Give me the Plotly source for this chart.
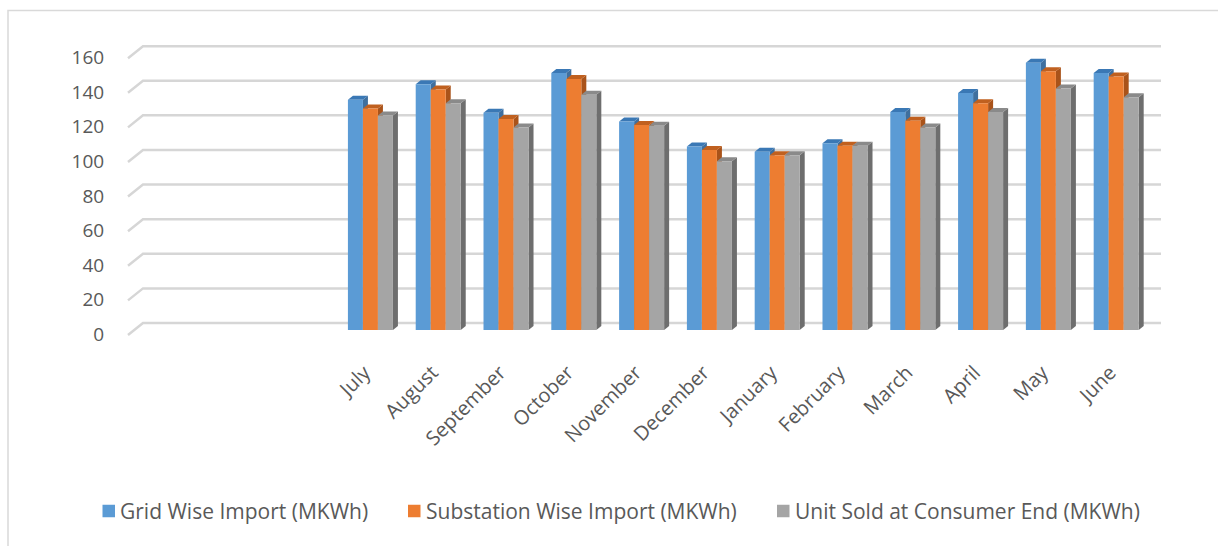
import plotly.graph_objects as go

# ---- data -------------------------------------------------------------
months = ["July", "August", "September", "October", "November", "December",
          "January", "February", "March", "April", "May", "June"]
grid_import = [133, 142, 125.5, 148.5, 120.5, 106, 103, 108, 126, 137, 154.5, 148.5]
substation_import = [128, 139, 122, 145, 118.5, 104, 101, 106.5, 121, 131, 149.5, 146.5]
unit_sold = [124, 131, 117, 136, 118, 97.5, 101, 106.5, 117, 126, 139.5, 134.5]

series_names = ["Grid Wise Import (MKWh)", "Substation Wise Import (MKWh)",
                "Unit Sold at Consumer End (MKWh)"]
y_ticks = [0, 20, 40, 60, 80, 100, 120, 140, 160]

# ---- styling ----------------------------------------------------------
face_colors = ["#5B9BD5", "#ED7D31", "#A5A5A5"]
top_colors = ["#3A78B5", "#C0601F", "#8A8A8A"]
side_colors = ["#3F6F9E", "#A9531A", "#6E6E6E"]
text_color = "#595959"
grid_color = "#D6D6D6"
font_family = "Open Sans"

W, H = 1218, 546
margin_l, margin_r, margin_t, margin_b = 125, 53, 40, 206
plot_w = W - margin_l - margin_r
plot_h = H - margin_t - margin_b

x_range = [-3.62, 11.72]
y_range = [-5.78, 167.6]
px_x = plot_w / (x_range[1] - x_range[0])   # pixels per category unit
px_y = plot_h / (y_range[1] - y_range[0])   # pixels per value unit

bargap = 0.336
group_w = 1 - bargap
bar_w = group_w / 3

# 3-D depth of each bar (pixels -> data units)
depth_dx = 5 / px_x
depth_dy = 4 / px_y

# wall perspective for the gridlines
back_dy = 7 / px_y      # back wall sits above the bar baseline
front_dy = -5 / px_y    # front edge sits below the bar baseline
wall_x0 = x_range[0] + 3 / px_x
wall_x1 = x_range[0] + 18 / px_x
wall_x2 = x_range[0] + 1036 / px_x


def paper_x(px):
    return (px - margin_l) / plot_w


def paper_y(py):
    return (H - margin_b - py) / plot_h


fig = go.Figure()

series = [grid_import, substation_import, unit_sold]
for name, vals, col in zip(series_names, series, face_colors):
    fig.add_trace(go.Bar(
        x=months, y=vals, name=name, showlegend=False,
        marker=dict(color=col, line=dict(width=0)),
    ))

shapes = []
annotations = []

# back-wall gridlines with the slanted floor edge at the left
for v in y_ticks:
    shapes.append(dict(
        type="path", xref="x", yref="y", layer="below",
        path=(f"M {wall_x0},{v + front_dy} L {wall_x1},{v + back_dy} "
              f"L {wall_x2},{v + back_dy}"),
        line=dict(color=grid_color, width=2.5),
    ))

# top caps and right-hand side faces giving each bar its depth
for i, vals in enumerate(series):
    for k, v in enumerate(vals):
        x0 = k - group_w / 2 + i * bar_w
        x1 = x0 + bar_w
        shapes.append(dict(
            type="path", xref="x", yref="y", layer="below",
            path=(f"M {x1},0 L {x1},{v} L {x1 + depth_dx},{v + depth_dy} "
                  f"L {x1 + depth_dx},{depth_dy} Z"),
            fillcolor=side_colors[i], line=dict(width=0),
        ))
        shapes.append(dict(
            type="path", xref="x", yref="y", layer="below",
            path=(f"M {x0},{v} L {x1},{v} L {x1 + depth_dx},{v + depth_dy} "
                  f"L {x0 + depth_dx},{v + depth_dy} Z"),
            fillcolor=top_colors[i], line=dict(width=0),
        ))

# legend row: colour key squares with their labels
legend_y = 511
legend_key_x = [102.5, 408, 777]
key_size = 12.5
for name, col, kx in zip(series_names, face_colors, legend_key_x):
    shapes.append(dict(
        type="rect", xref="paper", yref="paper",
        x0=paper_x(kx), x1=paper_x(kx + key_size),
        y0=paper_y(legend_y + key_size / 2), y1=paper_y(legend_y - key_size / 2),
        fillcolor=col, line=dict(width=0),
    ))
    annotations.append(dict(
        xref="paper", yref="paper", x=paper_x(kx + key_size + 3), y=paper_y(legend_y),
        xanchor="left", yanchor="middle", showarrow=False, text=name,
        font=dict(size=21, color=text_color, family=font_family),
    ))

# chart frame
shapes.append(dict(
    type="rect", xref="paper", yref="paper", layer="below",
    x0=paper_x(8), x1=paper_x(W + 10), y0=paper_y(H + 10), y1=paper_y(10.5),
    line=dict(color="#D9D9D9", width=1.5), fillcolor="rgba(0,0,0,0)",
))

fig.update_layout(
    width=W, height=H,
    margin=dict(l=margin_l, r=margin_r, t=margin_t, b=margin_b),
    paper_bgcolor="white", plot_bgcolor="white",
    barmode="group", bargap=bargap, bargroupgap=0,
    font=dict(family=font_family, color=text_color),
    shapes=shapes, annotations=annotations,
    showlegend=False,
    xaxis=dict(
        range=x_range, showgrid=False, zeroline=False, showline=False,
        tickangle=-45, tickfont=dict(size=20, color=text_color),
        ticks="outside", ticklen=12, tickcolor="rgba(0,0,0,0)",
        ticklabelshift=-6,
    ),
    yaxis=dict(
        range=y_range, showgrid=False, zeroline=False, showline=False,
        tickvals=[v - 2.5 for v in y_ticks], ticktext=[str(v) for v in y_ticks],
        tickfont=dict(size=19, color=text_color),
        ticks="outside", ticklen=16, tickcolor="rgba(0,0,0,0)",
    ),
)

fig.write_html("out.html")
